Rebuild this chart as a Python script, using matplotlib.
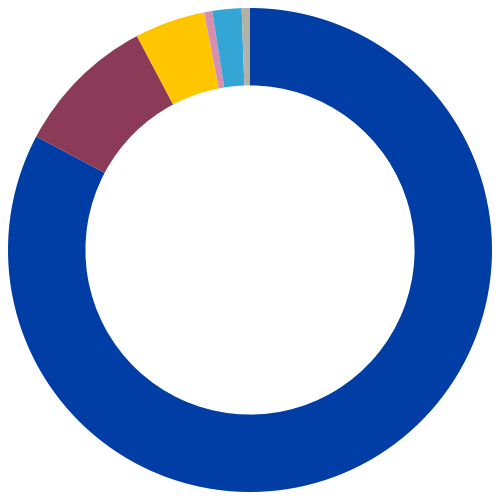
import matplotlib
matplotlib.use("Agg")
import matplotlib.pyplot as plt

# slice shares, clockwise from 12 o'clock
labels = ["A", "B", "C", "D", "E", "F"]
values = [82.8, 9.5, 4.7, 0.54, 1.95, 0.55]
colors = ["#003DA5", "#8B3A58", "#FFC600", "#D68FB0", "#34A6D6", "#B1B3A8"]

fig = plt.figure(figsize=(5, 5), dpi=100)
ax = fig.add_axes([0, 0, 1, 1])
ax.pie(values, colors=colors, startangle=90, counterclock=False,
       radius=1.0, wedgeprops=dict(width=0.32, linewidth=0))
lim = 250 / 242.0
ax.set_xlim(-lim, lim)
ax.set_ylim(-lim, lim)
ax.set_aspect("equal")
ax.axis("off")
fig.savefig("out.png", dpi=100)
